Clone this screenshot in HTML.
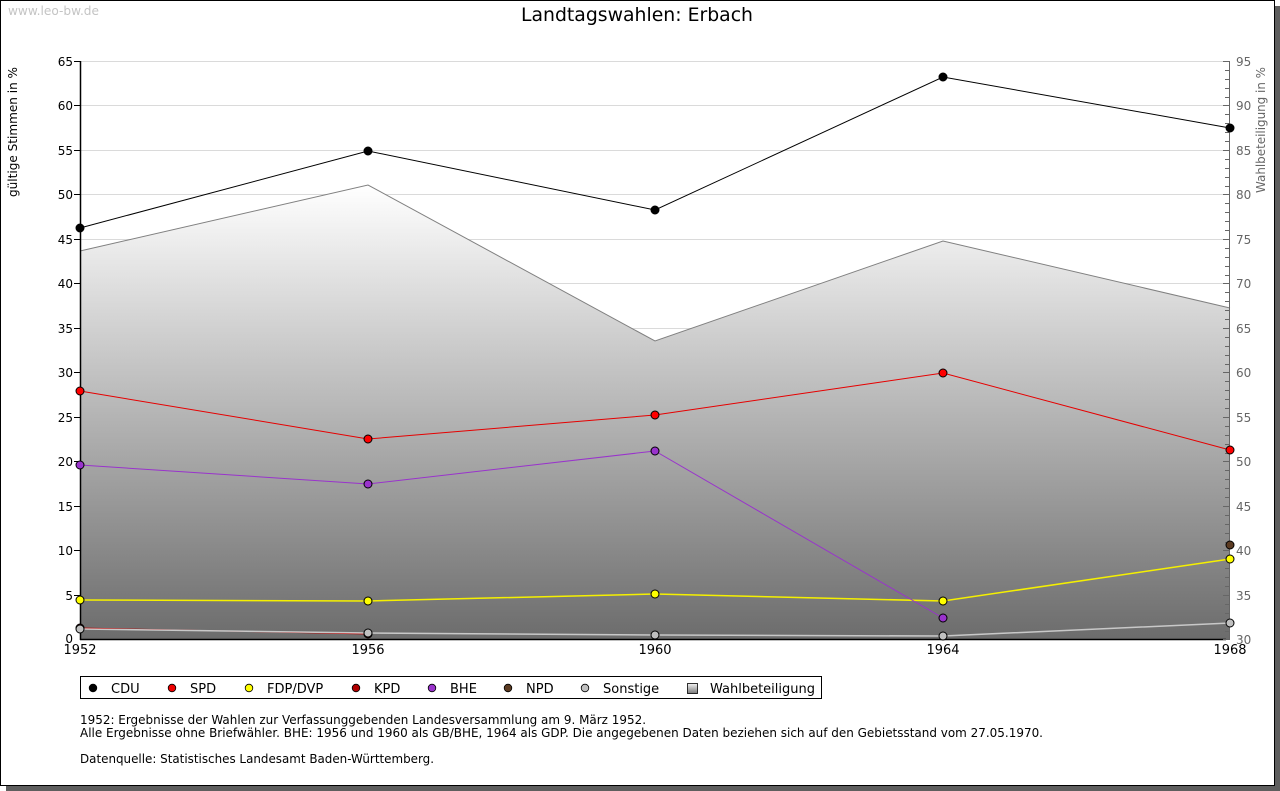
<!DOCTYPE html>
<html><head><meta charset="utf-8"><style>
html,body{margin:0;padding:0;background:#fff;}
svg{display:block;font-family:"DejaVu Sans","Liberation Sans",sans-serif;}
</style></head><body>
<svg width="1280" height="791" viewBox="0 0 1280 791" xmlns="http://www.w3.org/2000/svg">
<defs>
<linearGradient id="ag" gradientUnits="userSpaceOnUse" x1="0" y1="185" x2="0" y2="639">
<stop offset="0" stop-color="#ffffff"/><stop offset="1" stop-color="#6c6c6c"/>
</linearGradient>
<linearGradient id="lg" x1="0" y1="0" x2="0" y2="1">
<stop offset="0" stop-color="#f4f4f4"/><stop offset="1" stop-color="#777"/>
</linearGradient>
</defs>
<rect x="0" y="0" width="1280" height="791" fill="#fff"/>
<rect x="1275" y="6" width="5" height="785" fill="#5e5e5e"/>
<rect x="6" y="786" width="1274" height="5" fill="#5e5e5e"/>
<rect x="0.5" y="0.5" width="1274" height="785" fill="#fff" stroke="#000" stroke-width="1"/>

<text x="8" y="15" font-size="12" fill="#c4c4c4" textLength="91" lengthAdjust="spacingAndGlyphs">www.leo-bw.de</text>
<text x="637" y="21" font-size="19" text-anchor="middle" fill="#000" textLength="232" lengthAdjust="spacingAndGlyphs">Landtagswahlen: Erbach</text>

<!-- gridlines -->
<g stroke="#dadada" stroke-width="1">
<line x1="80" y1="61.5" x2="1230" y2="61.5"/>
<line x1="80" y1="105.5" x2="1230" y2="105.5"/>
<line x1="80" y1="150.5" x2="1230" y2="150.5"/>
<line x1="80" y1="194.5" x2="1230" y2="194.5"/>
<line x1="80" y1="239.5" x2="1230" y2="239.5"/>
<line x1="80" y1="283.5" x2="1230" y2="283.5"/>
<line x1="80" y1="328.5" x2="1230" y2="328.5"/>
<line x1="80" y1="372.5" x2="1230" y2="372.5"/>
<line x1="80" y1="417.5" x2="1230" y2="417.5"/>
<line x1="80" y1="461.5" x2="1230" y2="461.5"/>
<line x1="80" y1="506.5" x2="1230" y2="506.5"/>
<line x1="80" y1="550.5" x2="1230" y2="550.5"/>
<line x1="80" y1="595.5" x2="1230" y2="595.5"/>
</g>

<!-- Wahlbeteiligung area -->
<polygon points="80,251 368,185 655,341 943,241 1230,308 1230,639 80,639" fill="url(#ag)"/>
<polyline points="80,251 368,185 655,341 943,241 1230,308" fill="none" stroke="#808080" stroke-width="1"/>

<!-- axes -->
<line x1="80.5" y1="61" x2="80.5" y2="640" stroke="#000" stroke-width="1.5"/>
<line x1="80" y1="639.5" x2="1226" y2="639.5" stroke="#000" stroke-width="1.5"/>
<line x1="1229.5" y1="61" x2="1229.5" y2="640" stroke="#666" stroke-width="1"/>
<g stroke="#000" stroke-width="1">
<line x1="74" y1="61.5" x2="80" y2="61.5"/><line x1="74" y1="105.5" x2="80" y2="105.5"/>
<line x1="74" y1="150.5" x2="80" y2="150.5"/><line x1="74" y1="194.5" x2="80" y2="194.5"/>
<line x1="74" y1="239.5" x2="80" y2="239.5"/><line x1="74" y1="283.5" x2="80" y2="283.5"/>
<line x1="74" y1="328.5" x2="80" y2="328.5"/><line x1="74" y1="372.5" x2="80" y2="372.5"/>
<line x1="74" y1="417.5" x2="80" y2="417.5"/><line x1="74" y1="461.5" x2="80" y2="461.5"/>
<line x1="74" y1="506.5" x2="80" y2="506.5"/><line x1="74" y1="550.5" x2="80" y2="550.5"/>
<line x1="74" y1="595.5" x2="80" y2="595.5"/>
</g>
<g font-size="12" fill="#000" text-anchor="end">
<text x="73" y="66">65</text><text x="73" y="110">60</text><text x="73" y="155">55</text>
<text x="73" y="199">50</text><text x="73" y="244">45</text><text x="73" y="288">40</text>
<text x="73" y="333">35</text><text x="73" y="377">30</text><text x="73" y="422">25</text>
<text x="73" y="466">20</text><text x="73" y="511">15</text><text x="73" y="555">10</text>
<text x="73" y="600">5</text><text x="73" y="643">0</text>
</g>
<g stroke="#666" stroke-width="1">
<line x1="1223" y1="61.5" x2="1229" y2="61.5"/><line x1="1223" y1="105.5" x2="1229" y2="105.5"/>
<line x1="1223" y1="150.5" x2="1229" y2="150.5"/><line x1="1223" y1="194.5" x2="1229" y2="194.5"/>
<line x1="1223" y1="239.5" x2="1229" y2="239.5"/><line x1="1223" y1="283.5" x2="1229" y2="283.5"/>
<line x1="1223" y1="328.5" x2="1229" y2="328.5"/><line x1="1223" y1="372.5" x2="1229" y2="372.5"/>
<line x1="1223" y1="417.5" x2="1229" y2="417.5"/><line x1="1223" y1="461.5" x2="1229" y2="461.5"/>
<line x1="1223" y1="506.5" x2="1229" y2="506.5"/><line x1="1223" y1="550.5" x2="1229" y2="550.5"/>
<line x1="1223" y1="595.5" x2="1229" y2="595.5"/><line x1="1223" y1="639.5" x2="1229" y2="639.5"/>
</g>
<path stroke="#666" stroke-width="1" fill="none" d="M1225 70.5h4M1225 79.5h4M1225 88.5h4M1225 97.5h4M1225 114.5h4M1225 123.5h4M1225 132.5h4M1225 141.5h4M1225 159.5h4M1225 168.5h4M1225 177.5h4M1225 186.5h4M1225 203.5h4M1225 212.5h4M1225 221.5h4M1225 230.5h4M1225 248.5h4M1225 257.5h4M1225 266.5h4M1225 275.5h4M1225 292.5h4M1225 301.5h4M1225 310.5h4M1225 319.5h4M1225 337.5h4M1225 346.5h4M1225 355.5h4M1225 364.5h4M1225 381.5h4M1225 390.5h4M1225 399.5h4M1225 408.5h4M1225 426.5h4M1225 435.5h4M1225 444.5h4M1225 453.5h4M1225 470.5h4M1225 479.5h4M1225 488.5h4M1225 497.5h4M1225 515.5h4M1225 524.5h4M1225 533.5h4M1225 542.5h4M1225 559.5h4M1225 568.5h4M1225 577.5h4M1225 586.5h4M1225 604.5h4M1225 613.5h4M1225 622.5h4M1225 631.5h4"/>
<g font-size="12" fill="#666">
<text x="1236" y="66">95</text><text x="1236" y="110">90</text><text x="1236" y="155">85</text>
<text x="1236" y="199">80</text><text x="1236" y="244">75</text><text x="1236" y="288">70</text>
<text x="1236" y="333">65</text><text x="1236" y="377">60</text><text x="1236" y="422">55</text>
<text x="1236" y="466">50</text><text x="1236" y="511">45</text><text x="1236" y="555">40</text>
<text x="1236" y="600">35</text><text x="1236" y="644">30</text>
</g>
<text transform="translate(17,132) rotate(-90)" font-size="12.5" text-anchor="middle" fill="#000" textLength="130" lengthAdjust="spacingAndGlyphs">gültige Stimmen in %</text>
<text transform="translate(1265,130) rotate(-90)" font-size="12.5" text-anchor="middle" fill="#666" textLength="126" lengthAdjust="spacingAndGlyphs">Wahlbeteiligung in %</text>

<g font-size="13" fill="#000" text-anchor="middle">
<text x="80" y="654">1952</text><text x="368" y="654">1956</text><text x="655" y="654">1960</text>
<text x="943" y="654">1964</text><text x="1230" y="654">1968</text>
</g>

<!-- series lines -->
<polyline points="80,628 368,634" fill="none" stroke="#c00000" stroke-width="1"/>
<polyline points="80,629 368,633 655,635 943,636 1230,623" fill="none" stroke="#c8c8c8" stroke-width="1.5"/>
<polyline points="80,600 368,601 655,594 943,601 1230,559" fill="none" stroke="#f5f000" stroke-width="1.5"/>
<polyline points="80,465 368,484 655,451 943,618" fill="none" stroke="#9933cc" stroke-width="1"/>
<polyline points="80,391 368,439 655,415 943,373 1230,450" fill="none" stroke="#e60000" stroke-width="1"/>
<polyline points="80,228 368,151 655,210 943,77 1230,128" fill="none" stroke="#000" stroke-width="1"/>

<!-- markers -->
<g stroke="#000" stroke-width="1">
<g fill="#b00000"><circle cx="80" cy="628" r="4"/><circle cx="368" cy="634" r="4"/></g>
<g fill="#c0c0c0"><circle cx="80" cy="629" r="4"/><circle cx="368" cy="633" r="4"/><circle cx="655" cy="635" r="4"/><circle cx="943" cy="636" r="4"/><circle cx="1230" cy="623" r="4"/></g>
<g fill="#ffff00"><circle cx="80" cy="600" r="4"/><circle cx="368" cy="601" r="4"/><circle cx="655" cy="594" r="4"/><circle cx="943" cy="601" r="4"/><circle cx="1230" cy="559" r="4"/></g>
<g fill="#9933cc"><circle cx="80" cy="465" r="4"/><circle cx="368" cy="484" r="4"/><circle cx="655" cy="451" r="4"/><circle cx="943" cy="618" r="4"/></g>
<g fill="#5c3b22"><circle cx="1230" cy="545" r="4"/></g>
<g fill="#ff0000"><circle cx="80" cy="391" r="4"/><circle cx="368" cy="439" r="4"/><circle cx="655" cy="415" r="4"/><circle cx="943" cy="373" r="4"/><circle cx="1230" cy="450" r="4"/></g>
<g fill="#000"><circle cx="80" cy="228" r="4"/><circle cx="368" cy="151" r="4"/><circle cx="655" cy="210" r="4"/><circle cx="943" cy="77" r="4"/><circle cx="1230" cy="128" r="4"/></g>
</g>

<!-- legend -->
<rect x="80.5" y="676.5" width="741" height="22" fill="#fff" stroke="#000" stroke-width="1"/>
<g stroke="#000" stroke-width="0.8">
<circle cx="93" cy="688" r="3.8" fill="#000"/>
<circle cx="172" cy="688" r="3.8" fill="#ee0000"/>
<circle cx="249" cy="688" r="3.8" fill="#ffff00"/>
<circle cx="356" cy="688" r="3.8" fill="#b00000"/>
<circle cx="432" cy="688" r="3.8" fill="#9933cc"/>
<circle cx="508" cy="688" r="3.8" fill="#5c3b22"/>
<circle cx="585" cy="688" r="3.8" fill="#c0c0c0"/>
<rect x="687.5" y="683.5" width="10" height="10" fill="url(#lg)"/>
</g>
<g font-size="13" fill="#000">
<text x="111" y="693">CDU</text><text x="190" y="693">SPD</text><text x="267" y="693">FDP/DVP</text>
<text x="374" y="693">KPD</text><text x="450" y="693">BHE</text><text x="526" y="693">NPD</text>
<text x="603" y="693">Sonstige</text><text x="710" y="693">Wahlbeteiligung</text>
</g>

<g font-size="12" fill="#000">
<text x="80" y="724" textLength="566" lengthAdjust="spacingAndGlyphs">1952: Ergebnisse der Wahlen zur Verfassunggebenden Landesversammlung am 9. März 1952.</text>
<text x="80" y="737" textLength="963" lengthAdjust="spacingAndGlyphs">Alle Ergebnisse ohne Briefwähler. BHE: 1956 und 1960 als GB/BHE, 1964 als GDP. Die angegebenen Daten beziehen sich auf den Gebietsstand vom 27.05.1970.</text>
<text x="80" y="763" textLength="354" lengthAdjust="spacingAndGlyphs">Datenquelle: Statistisches Landesamt Baden-Württemberg.</text>
</g>
</svg>
</body></html>
